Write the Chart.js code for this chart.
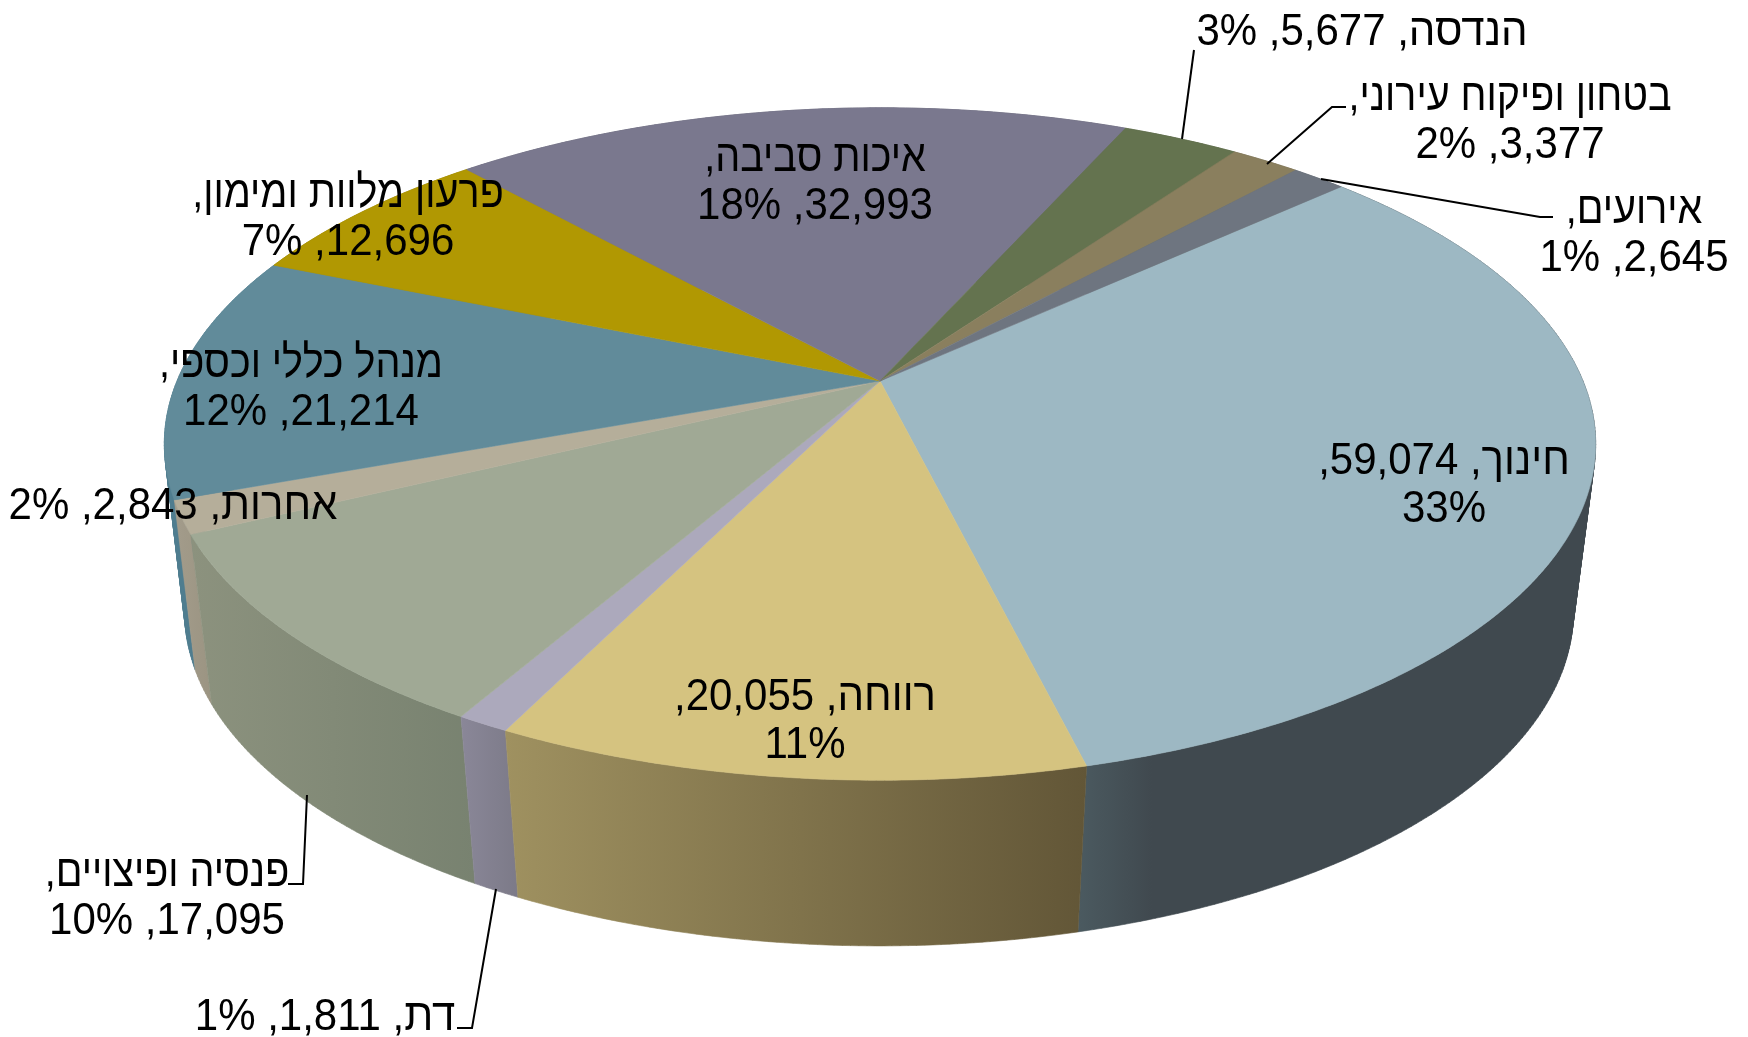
<!DOCTYPE html>
<html lang="he">
<head>
<meta charset="utf-8">
<title>תרשים</title>
<style>
  html, body { margin: 0; padding: 0; background: #fff; }
  canvas { display: block; }
</style>
<script src="https://cdn.jsdelivr.net/npm/chart.js@4"></script>
</head>
<body>
<canvas id="pieChart" width="1748" height="1037"></canvas>
<script>
const categories = ["חינוך", "רווחה", "דת", "פנסיה ופיצויים", "אחרות", "מנהל כללי וכספי", "פרעון מלוות ומימון", "איכות סביבה", "הנדסה", "בטחון ופיקוח עירוני", "אירועים"];
const values = [59074, 20055, 1811, 17095, 2843, 21214, 12696, 32993, 5677, 3377, 2645];
const percents = ["33%", "11%", "1%", "10%", "2%", "12%", "7%", "18%", "3%", "2%", "1%"];

const topColors = ["#9db8c3", "#d5c380", "#aca9bc", "#a0a995", "#b5ae9a", "#618b9a", "#b19802", "#7a788e", "#64734f", "#8a7f5e", "#6e7580"];
const wallColors = [
  ["#4b5a60", "#40494f", "#40494f", "#40494f", "#40494f", "#40494f", "#40494f", "#40494f"],
  ["#9f9160", "#625637"],
  ["#8a8798", "#7c7a88"],
  ["#8c927e", "#788270"],
  ["#a39c8b", "#9b9482"],
  ["#4f7d8f", "#4f7d8f"],
  ["#8a7700", "#8a7700"],
  ["#5f5e6f", "#5f5e6f"],
  ["#4e5a3e", "#4e5a3e"],
  ["#6c634a", "#6c634a"],
  ["#565c64", "#565c64"]
];

// where each label sits (centre x, first line y) and how it breaks
const labelPos = [[1444, 462], [805, 698], [325, 1018], [167, 874], [173, 507], [301, 365], [348, 195], [815, 159], [1362, 33], [1510, 98], [1634, 211]];
const labelBreak = ["pct", "pct", "none", "name", "none", "name", "name", "name", "none", "name", "name"];
const leaders = [
  [[1194, 50], [1182, 139]],
  [[1346, 107], [1332, 107], [1267, 164]],
  [[1553, 217], [1540, 217], [1321, 179]],
  [[288, 884], [303, 884], [307, 795]],
  [[457, 1028], [472, 1028], [496, 889]]
];

const rotationDeg = 47.6;

// the pie is a flat disc seen in perspective, top and bottom rims are two projections of the same circle
const topRim = { cx: 880, cy: 381, a: 703, b: 324.4, p: 0.1874 };
const bottomRim = { cx: 879, cy: 552, a: 683, b: 323, p: 0.18 };

function project(rim, angle) {
  const u = Math.cos(angle), v = Math.sin(angle);
  const d = 1 - rim.p * v;
  return [rim.cx + rim.a * u / d, rim.cy + rim.b * v / d];
}

function rimPoints(rim, start, end) {
  const pts = [];
  const n = Math.max(2, Math.ceil((end - start) / 0.01));
  for (let i = 0; i <= n; i++) {
    pts.push(project(rim, start + (end - start) * i / n));
  }
  return pts;
}

function tracePoly(ctx, pts) {
  pts.forEach((p, i) => i ? ctx.lineTo(p[0], p[1]) : ctx.moveTo(p[0], p[1]));
  ctx.closePath();
}

function signedArea(pts) {
  let s = 0;
  pts.forEach((p, i) => {
    const q = pts[(i + 1) % pts.length];
    s += p[0] * q[1] - q[0] * p[1];
  });
  return s;
}

function paint(ctx, fill) {
  ctx.fillStyle = fill;
  ctx.fill();
  // hides the hairline between neighbouring slices
  ctx.strokeStyle = fill;
  ctx.lineWidth = 0.6;
  ctx.stroke();
}

const perspectivePie = {
  id: "perspectivePie",
  beforeDatasetDraw(chart, args) {
    const ctx = chart.ctx;
    const arcs = chart.getDatasetMeta(args.index).data;

    // walls, farthest from the viewer first
    const order = arcs.map((a, i) => i).sort((i, j) => {
      const mi = Math.sin((arcs[i].startAngle + arcs[i].endAngle) / 2);
      const mj = Math.sin((arcs[j].startAngle + arcs[j].endAngle) / 2);
      return mi - mj;
    });
    order.forEach(i => {
      const top = rimPoints(topRim, arcs[i].startAngle, arcs[i].endAngle);
      const bottom = rimPoints(bottomRim, arcs[i].startAngle, arcs[i].endAngle);
      const xs = top.concat(bottom).map(p => p[0]);
      const grad = ctx.createLinearGradient(Math.min(...xs), 0, Math.max(...xs), 0);
      wallColors[i].forEach((c, k) => grad.addColorStop(k / (wallColors[i].length - 1), c));
      // quads all wound the same way in one path, so they fill without seams or holes
      ctx.beginPath();
      for (let k = 0; k < top.length - 1; k++) {
        const quad = [top[k], top[k + 1], bottom[k + 1], bottom[k]];
        tracePoly(ctx, signedArea(quad) < 0 ? quad.reverse() : quad);
      }
      paint(ctx, grad);
    });

    arcs.forEach(arc => {
      const rim = rimPoints(topRim, arc.startAngle, arc.endAngle);
      ctx.beginPath();
      tracePoly(ctx, [[topRim.cx, topRim.cy]].concat(rim));
      paint(ctx, arc.options.backgroundColor);
    });
    return false; // the library's own flat arcs are replaced by the above
  },
  afterDraw(chart) {
    const ctx = chart.ctx;
    ctx.save();
    ctx.strokeStyle = "#000";
    ctx.lineWidth = 2;
    leaders.forEach(line => {
      ctx.beginPath();
      line.forEach((p, i) => i ? ctx.lineTo(p[0], p[1]) : ctx.moveTo(p[0], p[1]));
      ctx.stroke();
    });
    ctx.fillStyle = "#000";
    ctx.font = '42px "Liberation Sans", Arial, sans-serif';
    ctx.direction = "rtl";
    ctx.textAlign = "center";
    ctx.textBaseline = "middle";
    categories.forEach((name, i) => {
      const val = values[i].toLocaleString("en-US");
      let lines;
      if (labelBreak[i] === "pct") lines = [name + ", " + val + ",", percents[i]];
      else if (labelBreak[i] === "name") lines = [name + ",", val + ", " + percents[i]];
      else lines = [name + ", " + val + ", " + percents[i]];
      lines.forEach((t, k) => {
        // reference type is a bit taller than wide, and its Hebrew narrower than Liberation's
        const onlyName = labelBreak[i] === "name" && k === 0;
        ctx.save();
        ctx.translate(labelPos[i][0], labelPos[i][1] + k * 48);
        ctx.scale(onlyName ? 0.94 : 1, 1.07);
        ctx.fillText(t, 0, 0);
        ctx.restore();
      });
    });
    ctx.restore();
  }
};

new Chart(document.getElementById("pieChart").getContext("2d"), {
  type: "pie",
  data: {
    labels: categories,
    datasets: [{
      data: values,
      backgroundColor: topColors,
      borderWidth: 0
    }]
  },
  options: {
    responsive: false,
    animation: false,
    rotation: rotationDeg,
    plugins: {
      legend: { display: false },
      tooltip: { enabled: false }
    }
  },
  plugins: [perspectivePie]
});
</script>
</body>
</html>
